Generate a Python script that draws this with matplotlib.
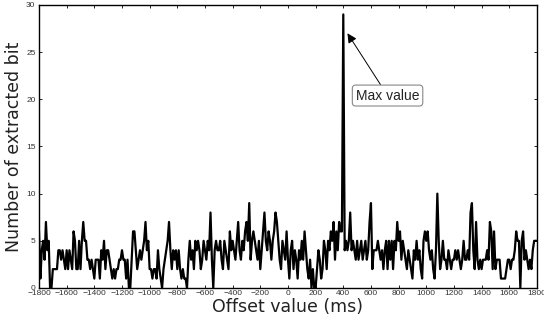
import numpy as np
import matplotlib
matplotlib.use("Agg")
import matplotlib.pyplot as plt

# offsets in ms, sampled every 10 ms from -1800 to 1800
offset_start = -1800
offset_step = 10

# number of extracted bits per offset (10 values per 100 ms)
extracted_bits = [
    6, 1, 4, 5, 3, 7, 4, 5, 0, 0,    # -1800
    2, 2, 2, 2, 4, 4, 3, 4, 3, 2,    # -1700
    4, 2, 4, 3, 2, 6, 5, 2, 2, 5,    # -1600
    2, 5, 7, 5, 5, 3, 3, 2, 3, 2,    # -1500
    1, 3, 3, 3, 1, 4, 3, 5, 2, 4,    # -1400
    4, 3, 2, 1, 2, 1, 2, 2, 3, 3,    # -1300
    4, 3, 3, 1, 3, 0, 0, 3, 6, 6,    # -1200
    4, 2, 3, 4, 3, 4, 5, 7, 4, 5,    # -1100
    2, 2, 1, 2, 2, 1, 4, 2, 1, 0,    # -1000
    2, 3, 4, 5, 7, 4, 2, 4, 3, 4,    # -900
    2, 4, 2, 1, 2, 1, 1, 0, 3, 5,    # -800
    3, 4, 2, 5, 4, 5, 4, 2, 3, 5,    # -700
    4, 3, 5, 4, 8, 3, 0, 4, 5, 4,    # -600
    4, 5, 3, 2, 5, 4, 3, 2, 6, 4,    # -500
    5, 4, 3, 5, 7, 4, 3, 5, 4, 6,    # -400
    7, 5, 9, 3, 5, 6, 5, 4, 3, 5,    # -300
    2, 4, 6, 8, 5, 4, 6, 5, 3, 5,    # -200
    6, 8, 7, 5, 3, 2, 5, 4, 3, 6,    # -100
    3, 1, 4, 5, 2, 4, 3, 1, 4, 3,    # 0
    5, 3, 6, 4, 2, 1, 3, 0, 2, 0,    # 100
    0, 2, 4, 3, 1, 2, 5, 4, 2, 5,    # 200
    4, 6, 5, 7, 3, 6, 4, 7, 6, 6,    # 300
    29, 4, 5, 4, 5, 8, 4, 5, 4, 3,   # 400
    5, 3, 4, 5, 3, 4, 5, 3, 4, 7,    # 500
    9, 2, 4, 4, 4, 5, 4, 3, 4, 2,    # 600
    4, 5, 2, 5, 3, 5, 2, 5, 4, 7,    # 700
    5, 6, 3, 5, 4, 3, 2, 4, 3, 2,    # 800
    1, 4, 3, 5, 3, 4, 2, 1, 5, 6,    # 900
    5, 6, 4, 3, 4, 2, 1, 4, 10, 5,   # 1000
    2, 3, 5, 3, 3, 2, 4, 3, 2, 3,    # 1100
    3, 4, 3, 4, 3, 2, 3, 5, 3, 3,    # 1200
    4, 3, 8, 9, 4, 2, 7, 3, 2, 3,    # 1300
    2, 3, 3, 3, 4, 3, 7, 6, 2, 6,    # 1400
    2, 3, 3, 3, 1, 1, 1, 1, 2, 3,    # 1500
    3, 2, 3, 3, 4, 6, 5, 5, 0, 5,    # 1600
    6, 3, 4, 3, 2, 3, 2, 4, 5, 5,    # 1700
    5,                               # 1800
]

x_ticks = list(range(-1800, 1801, 200))
y_ticks = [0, 5, 10, 15, 20, 25, 30]

offsets = offset_start + offset_step * np.arange(len(extracted_bits))
peak_idx = int(np.argmax(extracted_bits))

plt.rcParams['font.family'] = ['Liberation Sans', 'DejaVu Sans']

fig = plt.figure(figsize=(5.44, 3.26), dpi=100)
ax = fig.add_axes([0.0717, 0.1166, 0.9153, 0.8681])

ax.plot(offsets, extracted_bits, color='black', linewidth=1.6)

ax.set_xlim(-1800, 1800)
ax.set_ylim(0, 30)
ax.set_xticks(x_ticks)
ax.set_yticks(y_ticks)
ax.tick_params(direction='in', top=True, right=True, length=2.5, width=0.6,
               labelsize=6, labelcolor='#333333')
ax.tick_params(axis='x', pad=1.5)
ax.tick_params(axis='y', pad=2.5)
for s in ax.spines.values():
    s.set_linewidth(1.0)

ax.set_xlabel('Offset value (ms)', fontsize=12.5, family='DejaVu Sans',
              color='#222222', labelpad=1)
ax.set_ylabel('Number of extracted bit', fontsize=12.5, family='DejaVu Sans',
              color='#222222', labelpad=2)

ax.annotate('Max value',
            xy=(offsets[peak_idx] + 30, 27.0), xytext=(720, 20.4),
            fontsize=10, ha='center', va='center', color='#222222',
            bbox=dict(boxstyle='round,pad=0.25', fc='white', ec='#888888', lw=0.8),
            arrowprops=dict(arrowstyle='-|>', color='black', lw=0.7,
                            mutation_scale=14, shrinkA=0, shrinkB=0))

fig.savefig('out.png', dpi=100)
